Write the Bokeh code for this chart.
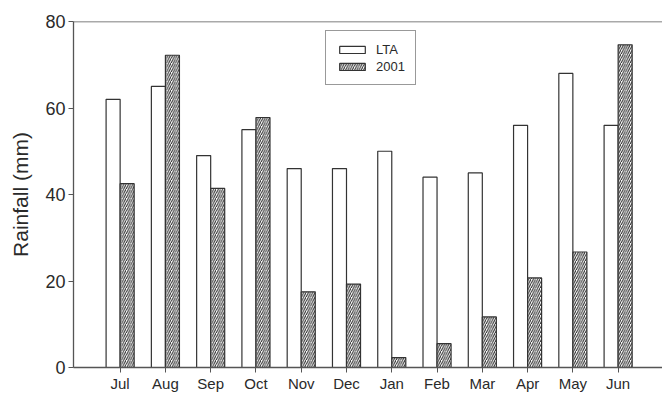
import numpy as np
from bokeh.plotting import figure
from bokeh.models import ColumnDataSource, Range1d, FixedTicker, Span, Legend, LegendItem
from bokeh.transform import dodge
from bokeh.embed import file_html
from bokeh.resources import INLINE

months = ["Jul", "Aug", "Sep", "Oct", "Nov", "Dec", "Jan", "Feb", "Mar", "Apr", "May", "Jun"]
lta = [62, 65, 49, 55, 46, 46, 50, 44, 45, 56, 68, 56]
y2001 = [42.5, 72.2, 41.4, 57.8, 17.5, 19.3, 2.3, 5.5, 11.7, 20.7, 26.7, 74.6]
y_ticks = [0, 20, 40, 60, 80]

idx = list(range(len(months)))
src = ColumnDataSource(dict(x=idx, lta=lta, y2001=y2001))

FONT = "Liberation Sans"
INK = "#2a2a2a"

p = figure(width=662, height=394, output_backend="svg", toolbar_location=None,
           x_range=Range1d(-1.03, 11.98), y_range=Range1d(0, 80),
           min_border_left=73, min_border_right=0, min_border_top=21, min_border_bottom=26)
p.outline_line_color = None
p.xgrid.visible = False
p.ygrid.visible = False
p.background_fill_color = "white"

bw = 0.31
r1 = p.vbar(x=dodge("x", -bw / 2, range=p.x_range), top="lta", width=bw, source=src,
            fill_color="white", line_color="#333333", line_width=1.2)
r2 = p.vbar(x=dodge("x", bw / 2, range=p.x_range), top="y2001", width=bw, source=src,
            fill_color="white", line_color="#333333", line_width=1.2,
            hatch_pattern="/", hatch_scale=4.5, hatch_weight=1.0, hatch_color="#222222")

p.add_layout(Span(location=80, dimension="width", line_color="#555555", line_width=1.3))

xa = p.xaxis[0]
xa.ticker = FixedTicker(ticks=idx)
xa.major_label_overrides = {i: m for i, m in zip(idx, months)}
xa.major_tick_out = 5
xa.major_tick_in = 0
xa.minor_tick_line_color = None
xa.axis_line_color = "#555555"
xa.axis_line_width = 1.3
xa.major_tick_line_color = "#555555"
xa.major_label_text_font = FONT
xa.major_label_text_font_size = "15px"
xa.major_label_text_color = INK
xa.major_label_standoff = 2

ya = p.yaxis[0]
ya.ticker = FixedTicker(ticks=y_ticks)
ya.major_tick_out = 5
ya.major_tick_in = 0
ya.minor_tick_line_color = None
ya.axis_line_color = "#555555"
ya.axis_line_width = 1.3
ya.major_tick_line_color = "#555555"
ya.major_label_text_font = FONT
ya.major_label_text_font_size = "18px"
ya.major_label_text_color = INK
ya.major_label_standoff = 3
ya.axis_label = "Rainfall (mm)"
ya.axis_label_text_font = FONT
ya.axis_label_text_font_size = "21px"
ya.axis_label_text_font_style = "normal"
ya.axis_label_text_color = INK
ya.axis_label_standoff = 10

legend = Legend(items=[LegendItem(label="LTA", renderers=[r1]),
                       LegendItem(label="2001", renderers=[r2])],
                location=(252, 282), orientation="vertical",
                padding=10, margin=0, spacing=1,
                glyph_width=32, glyph_height=9, label_height=16, label_standoff=8,
                label_text_font=FONT, label_text_font_size="13px", label_text_color=INK,
                border_line_color="#333333", border_line_width=1.2,
                background_fill_alpha=1.0)
p.add_layout(legend, "center")

open("out.html", "w").write(file_html(p, INLINE))
